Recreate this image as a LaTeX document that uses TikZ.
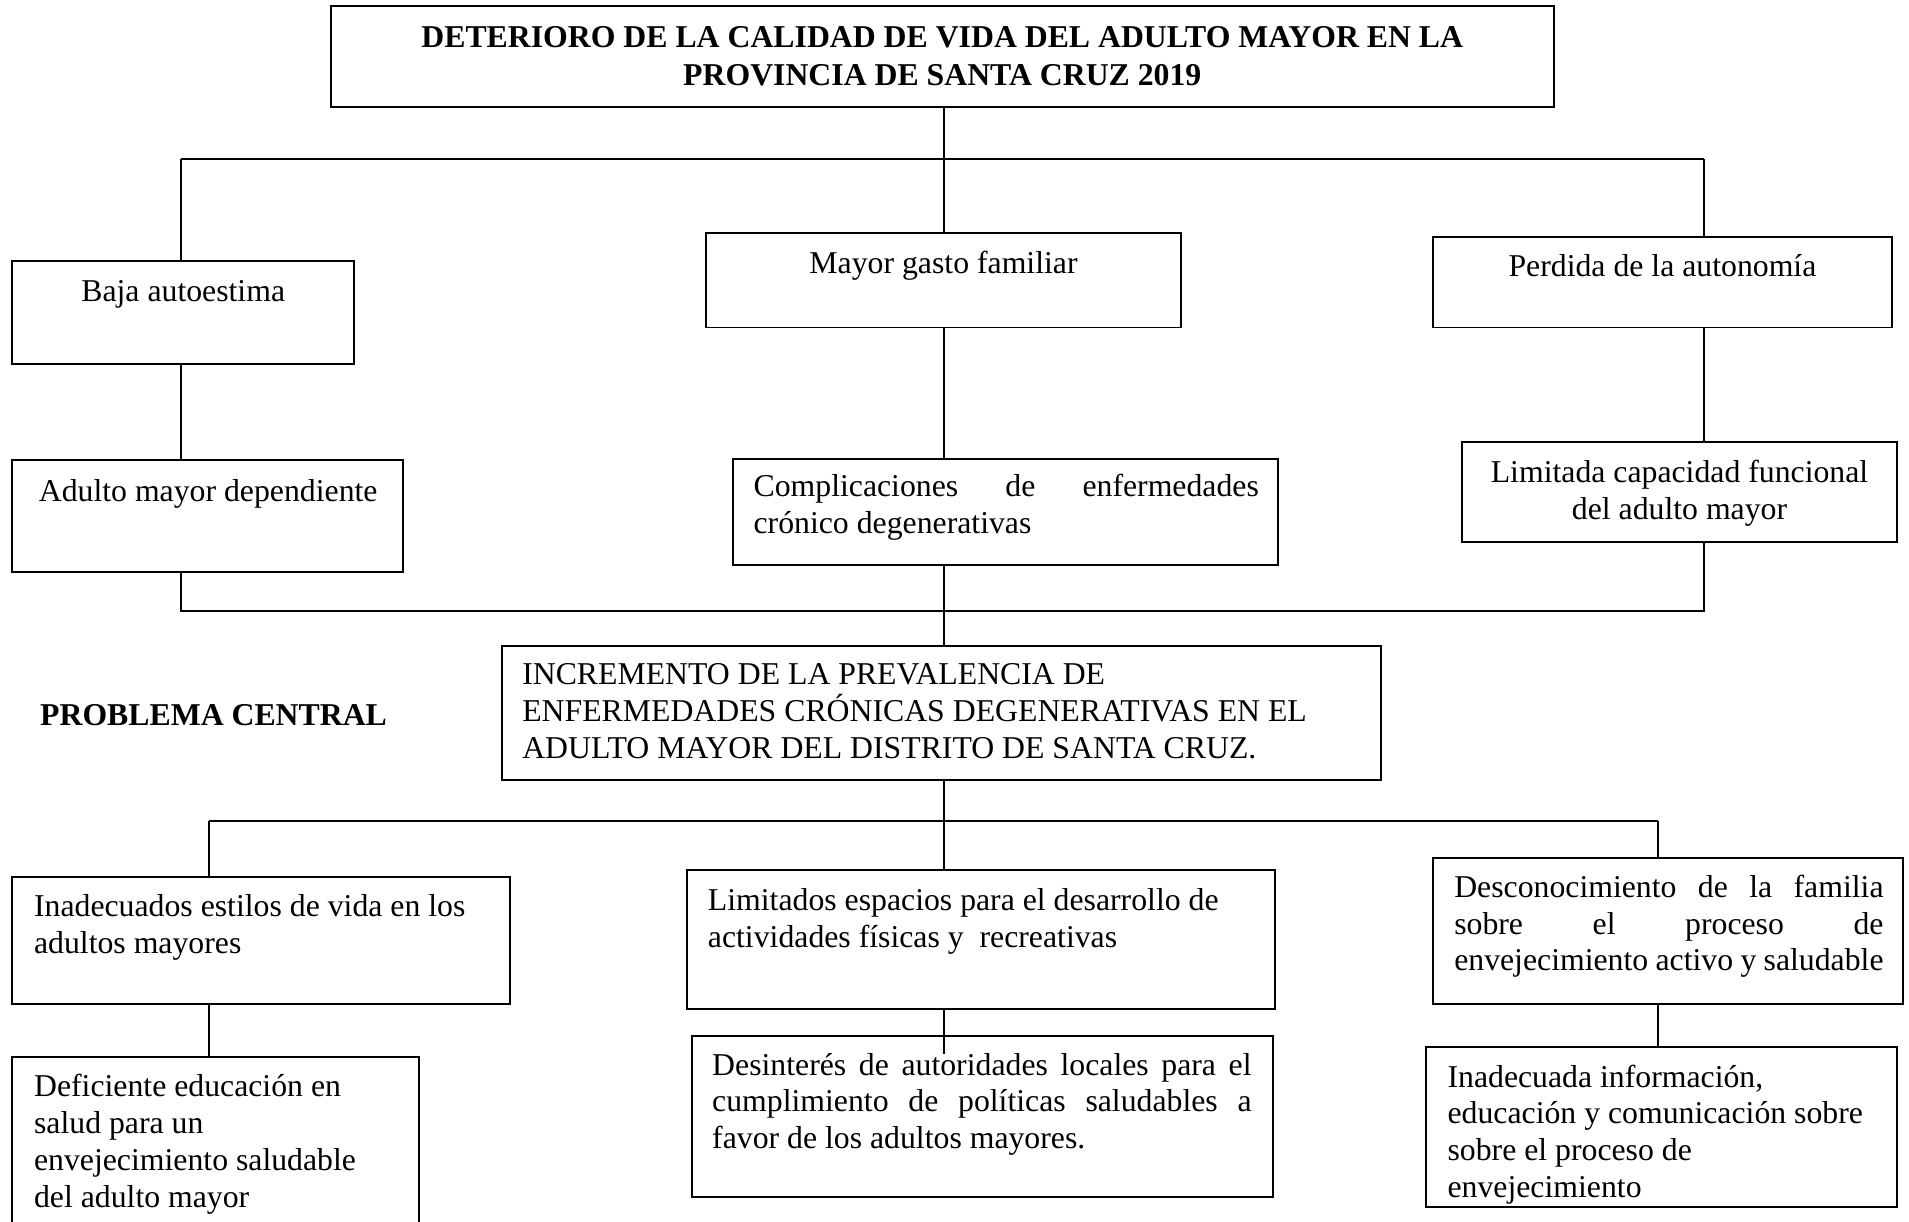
\documentclass[tikz,border=0pt]{standalone}
\usepackage{fontspec}
\setmainfont{Liberation Serif}
\usetikzlibrary{fit}
\tikzset{
  box/.style={draw=black, line width=0.75pt, inner sep=0pt, fill=none},
  conn/.style={draw=black, line width=0.75pt},
  txt/.style={inner sep=0pt, outer sep=0pt, font=\fontsize{12pt}{13.8pt}\selectfont},
}
\newcommand{\pbx}[2]{\parbox[t]{#1}{\fontsize{12pt}{13.8pt}\selectfont\baselineskip=13.9pt #2}}
\begin{document}
\begin{tikzpicture}[x=0.46pt, y=-0.46pt]
\useasboundingbox (0,0) rectangle (1568,1003);
\fill[white] (0,0) rectangle (1568,1003);
\begin{scope}
\clip (0,0) rectangle (1568,1003);
% ---------- boxes ----------
\node[box, fit={(272,5) (1276,88)}] (top) {};
\node[box, fit={(10,214) (291,299)}] (baja) {};
\node[box, fit={(580,191) (970,269)}] (mayor) {};
\node[box, fit={(1177,195) (1554,269)}] (perdida) {};
\node[box, fit={(10,378) (331,470)}] (adulto) {};
\node[box, fit={(602,377) (1050,464)}] (complic) {};
\node[box, fit={(1201,363) (1558,445)}] (limitada) {};
\node[box, fit={(412,531) (1134,641)}] (central) {};
\node[box, fit={(10,720) (419,825)}] (inadec) {};
\node[box, fit={(10,868) (344,1030)}] (deficiente) {};
\node[box, fit={(564,715) (1047,829)}] (limitados) {};
\node[box, fit={(568,851) (1046,983)}] (desinteres) {};
\node[box, fit={(1177,705) (1563,825)}] (desconoc) {};
\node[box, fit={(1171,860) (1558,991)}] (inadecuada) {};

% ---------- texts ----------
\node[txt, anchor=base, font=\fontsize{12pt}{13.8pt}\selectfont\bfseries] (ttop1) at (774,39) {DETERIORO DE LA CALIDAD DE VIDA DEL ADULTO MAYOR EN LA};
\node[txt, anchor=base, font=\fontsize{12pt}{13.8pt}\selectfont\bfseries] (ttop2) at (774,70) {PROVINCIA DE SANTA CRUZ 2019};
\node[txt, anchor=base] (tbaja) at (150.5,248) {Baja autoestima};
\node[txt, anchor=base] (tmayor) at (775,225) {Mayor gasto familiar};
\node[txt, anchor=base] (tperdida) at (1365.5,227) {Perdida de la autonomía};
\node[txt, anchor=base] (tadulto) at (171,412) {Adulto mayor dependiente};
\node[txt, anchor=base west] (tcomplic) at (619,408) {\pbx{190.9pt}{Complicaciones de enfermedades\linebreak crónico degenerativas}};
\node[txt, anchor=base] (tlim1) at (1379.5,396) {Limitada capacidad funcional};
\node[txt, anchor=base] (tlim2) at (1379.5,427) {del adulto mayor};
\node[txt, anchor=base west] (tcentral) at (429,562.5) {\pbx{330pt}{\raggedright INCREMENTO DE LA PREVALENCIA DE\\ENFERMEDADES CRÓNICAS DEGENERATIVAS EN EL\\ADULTO MAYOR DEL DISTRITO DE SANTA CRUZ.}};
\node[txt, anchor=base west, font=\fontsize{12pt}{13.8pt}\selectfont\bfseries] (tproblema) at (33,596) {PROBLEMA CENTRAL};
\node[txt, anchor=base west] (tinadec) at (28,753) {\pbx{180pt}{\raggedright Inadecuados estilos de vida en los\\adultos mayores}};
\node[txt, anchor=base west] (tdef) at (28,901) {\pbx{150pt}{\raggedright Deficiente educación en\\salud para un\\envejecimiento saludable\\del adulto mayor}};
\node[txt, anchor=base west] (tlimitados) at (581.5,748) {\pbx{215pt}{\raggedright Limitados espacios para el desarrollo de\\actividades físicas y\ \ recreativas}};
\node[txt, anchor=base west] (tdesint) at (585,883) {\pbx{203.8pt}{Desinterés de autoridades locales para el\linebreak cumplimiento de políticas saludables a\linebreak favor de los adultos mayores.}};
\node[txt, anchor=base west] (tdesc) at (1194.5,737) {\pbx{162.2pt}{Desconocimiento de la familia\linebreak sobre el proceso de\linebreak envejecimiento activo y saludable}};
\node[txt, anchor=base west] (tinadecuada) at (1189,893) {\pbx{175pt}{\raggedright Inadecuada información,\\educación y comunicación sobre\\sobre el proceso de\\envejecimiento}};

% ---------- junctions ----------
\coordinate (a1) at (775,131);
\coordinate (aL) at (149,131);
\coordinate (aR) at (1400,131);
\coordinate (b1) at (775,502);
\coordinate (bL) at (149,502);
\coordinate (bR) at (1400,502);
\coordinate (c1) at (775,674);
\coordinate (cL) at (172,674);
\coordinate (cR) at (1362,674);
\coordinate (dend) at (775,866);

% ---------- connectors ----------
\draw[conn] (top.south -| a1) -- (a1);
\draw[conn] (aL) -- (aR);
\draw[conn] (aL) -- (aL |- baja.north);
\draw[conn] (a1) -- (a1 |- mayor.north);
\draw[conn] (aR) -- (aR |- perdida.north);
\draw[conn] (aL |- baja.south) -- (aL |- adulto.north);
\draw[conn] (a1 |- mayor.south) -- (a1 |- complic.north);
\draw[conn] (aR |- perdida.south) -- (aR |- limitada.north);
\draw[conn] (aL |- adulto.south) -- (bL) -- (bR) -- (aR |- limitada.south);
\draw[conn] (a1 |- complic.south) -- (b1) -- (a1 |- central.north);
\draw[conn] (central.south -| c1) -- (c1);
\draw[conn] (cL) -- (cR);
\draw[conn] (cL) -- (cL |- inadec.north);
\draw[conn] (c1) -- (c1 |- limitados.north);
\draw[conn] (cR) -- (cR |- desconoc.north);
\draw[conn] (cL |- inadec.south) -- (cL |- deficiente.north);
\draw[conn] (c1 |- limitados.south) -- (dend);
\draw[conn] (cR |- desconoc.south) -- (cR |- inadecuada.north);
\end{scope}
\end{tikzpicture}
\end{document}
